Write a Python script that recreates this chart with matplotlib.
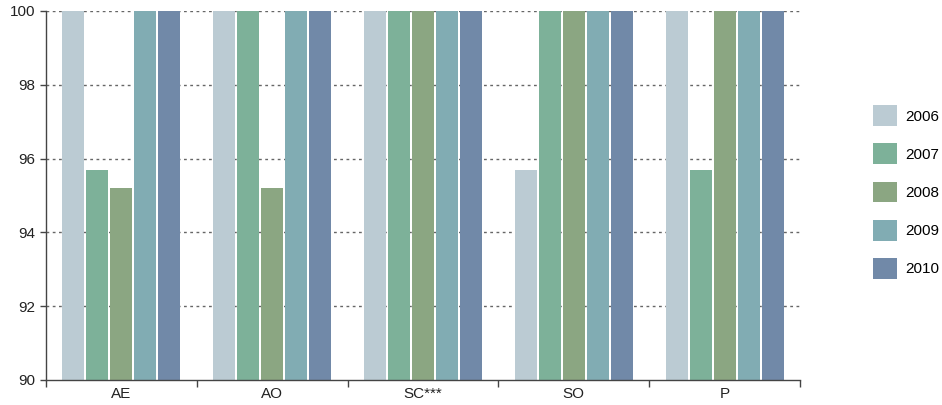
import matplotlib.pyplot as plt
import numpy as np

plt.rcParams['font.family'] = ['Liberation Sans', 'DejaVu Sans']

categories = ['AE', 'AO', 'SC***', 'SO', 'P']
years = ['2006', '2007', '2008', '2009', '2010']
v2006 = [100, 100, 100, 95.7, 100]
v2007 = [95.7, 100, 100, 100, 95.7]
v2008 = [95.2, 95.2, 100, 100, 100]
v2009 = [100, 100, 100, 100, 100]
v2010 = [100, 100, 100, 100, 100]
series = [v2006, v2007, v2008, v2009, v2010]
colors = ['#bbcbd3', '#7db199', '#8ba682', '#81acb3', '#7189a8']

fig = plt.figure(figsize=(9.42, 4.05), dpi=100)
ax = fig.add_axes([46/942, 25/405, 754/942, 369/405])

centers = np.arange(len(categories)) + 0.5
step = 0.159
width = 0.146
for i, (vals, c, y) in enumerate(zip(series, colors, years)):
    ax.bar(centers + (i - 2) * step, vals, width=width, color=c, label=y, zorder=2)

ax.set_ylim(90, 100)
ax.set_xlim(0, len(categories))
ax.set_yticks([90, 92, 94, 96, 98, 100])
for yv in [92, 94, 96, 98, 100]:
    ax.axhline(yv, color='#666666', lw=1, ls=(0, (2, 2.5)), zorder=1)

ax.set_xticks(np.arange(len(categories) + 1))
ax.set_xticklabels([])
ax.set_xticks(centers, minor=True)
ax.set_xticklabels(categories, minor=True)
ax.tick_params(axis='x', which='minor', length=0, labelsize=11, pad=5, colors='#222222')
ax.tick_params(axis='x', which='major', length=5, width=1, color='#444444')
ax.tick_params(axis='y', length=4, width=1, color='#444444', labelsize=11, labelcolor='#222222', pad=4)

for s in ['top', 'right']:
    ax.spines[s].set_visible(False)
for s in ['left', 'bottom']:
    ax.spines[s].set_color('#444444')
    ax.spines[s].set_linewidth(1)

fig.legend(loc='center left', bbox_to_anchor=(873/942, 1 - 192/405), frameon=False,
           handlelength=1.6, handleheight=1.7, labelspacing=1.15, handletextpad=0.5,
           borderpad=0, borderaxespad=0, fontsize=11)

fig.savefig('out.png', dpi=100)
